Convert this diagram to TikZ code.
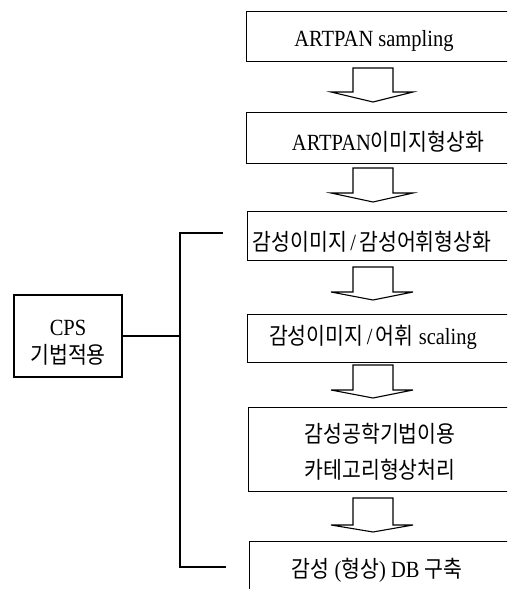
\documentclass[tikz,border=0pt]{standalone}
\usepackage{fontspec}
\usepackage{graphicx}
\setmainfont{Liberation Serif}
\newfontfamily\kr{Noto Sans CJK KR}
\newcommand\kk[1]{{\kr\fontsize{20.5}{24}\selectfont #1}}
\newcommand\stx[1]{\scalebox{1}[1.13]{#1}}
\tikzset{
  boxst/.style={draw, line width=1.1pt, rectangle, minimum width=264pt, inner sep=0pt, anchor=north west},
  lbl/.style={inner sep=0pt, font=\fontsize{20.5}{24}\selectfont},
  blk/.style={draw, line width=1.1pt, line join=miter},
  wire/.style={draw, line width=1.1pt}
}
\begin{document}
\begin{tikzpicture}[x=1pt,y=-1pt]
\useasboundingbox (0,0) rectangle (507,589);
\clip (0,0) rectangle (507,589);
% boxes
\node[boxst, minimum height=50pt] (b1) at (246,11) {};
\node[boxst, minimum height=51pt] (b2) at (246,112) {};
\node[boxst, minimum height=49pt] (b3) at (247,211) {};
\node[boxst, minimum height=48pt] (b4) at (247,314) {};
\node[boxst, minimum height=84pt] (b5) at (248,407) {};
\node[boxst, minimum height=70pt] (b6) at (249,541) {};
% texts
\node[lbl] (t1) at (374,41) {\stx{ARTPAN sampling}};
\node[lbl] (t2) at (388,142) {\stx{ARTPAN\kk{이미지형상화}}};
\node[lbl] (t3) at (372,242) {\stx{\kk{감성이미지}\,/\,\kk{감성어휘형상화}}};
\node[lbl] (t4) at (373,337) {\stx{\kk{감성이미지}\,/\,\kk{어휘} scaling}};
\node[lbl] (t5a) at (380,434) {\stx{\kk{감성공학기법이용}}};
\node[lbl] (t5b) at (380,470) {\stx{\kk{카테고리형상처리}}};
\node[lbl] (t6) at (377,570) {\stx{\kk{감성} (\kk{형상}) DB \kk{구축}}};
% block arrows
\foreach \t/\w/\p in {68/92/102, 168/193/202, 267/292/300, 365/390/398, 498/525/532}{
  \draw[blk] (353,\t) -- (353,\w) -- (331,\w) -- (373,\p) -- (413,\w) -- (393,\w) -- (393,\t) -- cycle;
}
% CPS box
\node[draw, line width=1.1pt, minimum width=108pt, minimum height=82pt, inner sep=0pt] (cps) at (68,336) {};
\node[lbl] (cpst) at (68,328) {\stx{CPS}};
\node[lbl] (cpsk) at (68,355) {\stx{\kk{기법적용}}};
% bracket
\coordinate (vt) at (180,233);
\coordinate (vb) at (180,567);
\coordinate (et) at (223,233);
\coordinate (eb) at (226,567);
\draw[wire] (et) -- (vt) -- (vb) -- (eb);
\draw[wire] (cps.east) -- (cps.east -| vt);
\end{tikzpicture}
\end{document}
